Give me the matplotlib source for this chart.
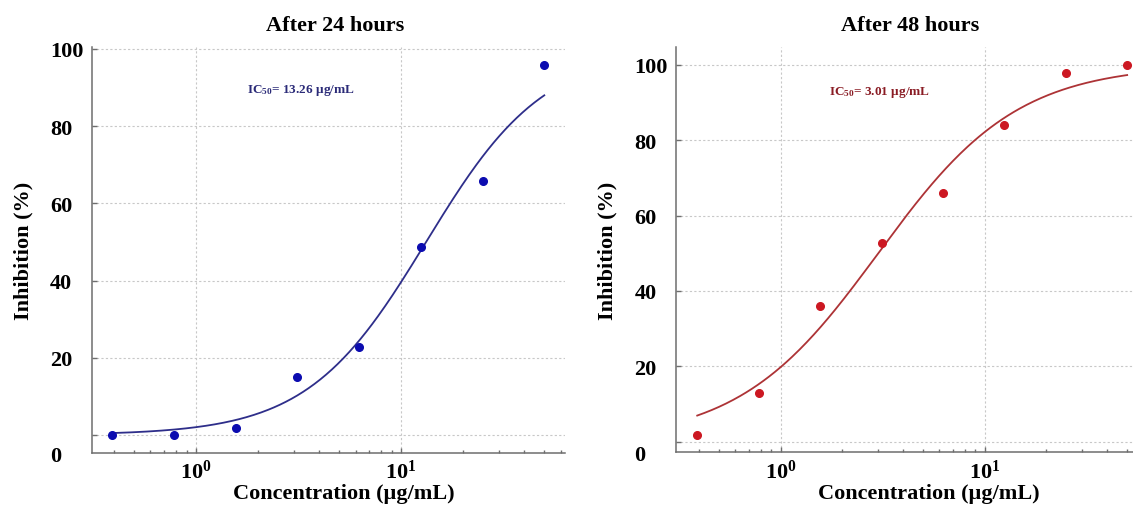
import numpy as np
import matplotlib
matplotlib.use("Agg")
import matplotlib.pyplot as plt
from matplotlib.transforms import blended_transform_factory, ScaledTranslation
from matplotlib.ticker import LogLocator, NullFormatter

plt.rcParams['font.family'] = ['Liberation Serif', 'DejaVu Serif']
plt.rcParams['font.weight'] = 'bold'
plt.rcParams['mathtext.fontset'] = 'custom'
plt.rcParams['mathtext.rm'] = 'Liberation Serif:bold'
plt.rcParams['mathtext.it'] = 'Liberation Serif:bold'
plt.rcParams['mathtext.bf'] = 'Liberation Serif:bold'

# ---- data ----
concentration = [0.39, 0.78, 1.56, 3.125, 6.25, 12.5, 25, 50]
inhibition_24h = [0.0, 0.0, 1.9, 14.9, 22.9, 48.8, 65.9, 95.8]
inhibition_48h = [1.9, 12.8, 35.9, 52.8, 65.9, 83.9, 97.9, 100.0]
titles = ["After 24 hours", "After 48 hours"]
ic50_labels = ["13.26", "3.01"]
# 4-parameter logistic fit parameters (IC50 from the chart, slope estimated)
fit_24h = dict(ic50=13.26, hill=1.5, bottom=0.0, top=100.0)
fit_48h = dict(ic50=3.01, hill=1.27, bottom=0.0, top=100.0)
y_ticks = [0, 20, 40, 60, 80, 100]

W, H = 1133, 506
fig = plt.figure(figsize=(W / 100, H / 100), dpi=100)

def px_axes(x0, x1, ytop, ybot):
    return [x0 / W, 1 - ybot / H, (x1 - x0) / W, (ybot - ytop) / H]

panels = [
    dict(rect=px_axes(91.7, 565, 48.4, 454), xlim=(0.31, 63.1), ylim=(-4.66, 100.4),
         y=inhibition_24h, fit=fit_24h, mcol='#0c0cb0', lcol='#2e2e8a',
         tcol='#2b2b78', ic=ic50_labels[0], title=titles[0],
         ic_pos=(300.5, 90.7), title_x=335, xlabel_x=343.5, ylabel_x=23),
    dict(rect=px_axes(676.2, 1133, 48, 453.3), xlim=(0.3076, 53.4), ylim=(-2.8, 104.7),
         y=inhibition_48h, fit=fit_48h, mcol='#cc1822', lcol='#ad3336',
         tcol='#8a1c24', ic=ic50_labels[1], title=titles[1],
         ic_pos=(880, 92.3), title_x=910, xlabel_x=929, ylabel_x=607.5),
]

for p in panels:
    ax = fig.add_axes(p['rect'])
    ax.set_xscale('log')
    ax.set_xlim(*p['xlim'])
    ax.set_ylim(*p['ylim'])
    x0p, x1p = p['rect'][0] * W, (p['rect'][0] + p['rect'][2]) * W
    wpx = x1p - x0p
    hpx = p['rect'][3] * H
    ybot_px = H - p['rect'][1] * H

    f = p['fit']
    xs = np.logspace(np.log10(concentration[0]), np.log10(concentration[-1]), 300)
    ys = f['bottom'] + (f['top'] - f['bottom']) / (1 + (f['ic50'] / xs) ** f['hill'])
    ax.plot(xs, ys, color=p['lcol'], lw=1.3, zorder=3)
    ax.plot(concentration, p['y'], 'o', color=p['mcol'], ms=5.5, zorder=4, clip_on=False)

    for s in ['top', 'right']:
        ax.spines[s].set_visible(False)
    for s in ['left', 'bottom']:
        ax.spines[s].set_color('#6e6e6e')
        ax.spines[s].set_linewidth(1.1)

    ax.set_yticks(y_ticks)
    ax.set_yticklabels([''] + [str(v) for v in y_ticks[1:]])
    for lab in ax.get_yticklabels():
        lab.set_horizontalalignment('left')
    ax.tick_params(axis='y', direction='in', length=3.5, width=1, color='#6e6e6e',
                   pad=30, labelsize=16)
    ax.xaxis.set_major_locator(LogLocator(base=10, numticks=10))
    ax.xaxis.set_minor_locator(LogLocator(base=10, subs=np.arange(2, 10), numticks=20))
    ax.xaxis.set_minor_formatter(NullFormatter())
    ax.tick_params(axis='x', which='major', direction='in', length=3.5, width=1,
                   color='#6e6e6e', pad=5, labelsize=16)
    ax.tick_params(axis='x', which='minor', direction='in', length=2.5, width=1,
                   color='#6e6e6e')

    ax.grid(True, which='major', color='#c8c8c8', lw=0.8, ls=(0, (2, 2)))
    ax.set_axisbelow(True)

    # "0" label at the bottom of the axis
    tr = blended_transform_factory(ax.transAxes, ax.transData) + \
        ScaledTranslation(-41.7 / 100, 0, fig.dpi_scale_trans)
    ax.text(0, p['ylim'][0], '0', transform=tr, ha='left', va='center_baseline',
            fontsize=16, fontweight='bold')

    ax.set_xlabel('Concentration (µg/mL)', fontsize=16, fontweight='bold', va='center')
    ax.xaxis.set_label_coords((p['xlabel_x'] - x0p) / wpx, (ybot_px - 494) / hpx)
    ax.set_ylabel('Inhibition (%)', fontsize=16, fontweight='bold', va='center')
    ax.yaxis.set_label_coords((p['ylabel_x'] - x0p) / wpx, 0.5)

    ax.text((p['title_x'] - x0p) / wpx, (ybot_px - 26) / hpx, p['title'],
            transform=ax.transAxes, ha='center', va='center', fontsize=16,
            fontweight='bold')
    icx, icy = p['ic_pos']
    ax.text((icx - x0p) / wpx, (ybot_px - icy) / hpx,
            r'IC$_{\mathdefault{50}}$= ' + p['ic'] + ' µg/mL',
            transform=ax.transAxes, ha='center', va='center', fontsize=9.5,
            fontweight='bold', color=p['tcol'])

fig.savefig('out.png', dpi=100)
